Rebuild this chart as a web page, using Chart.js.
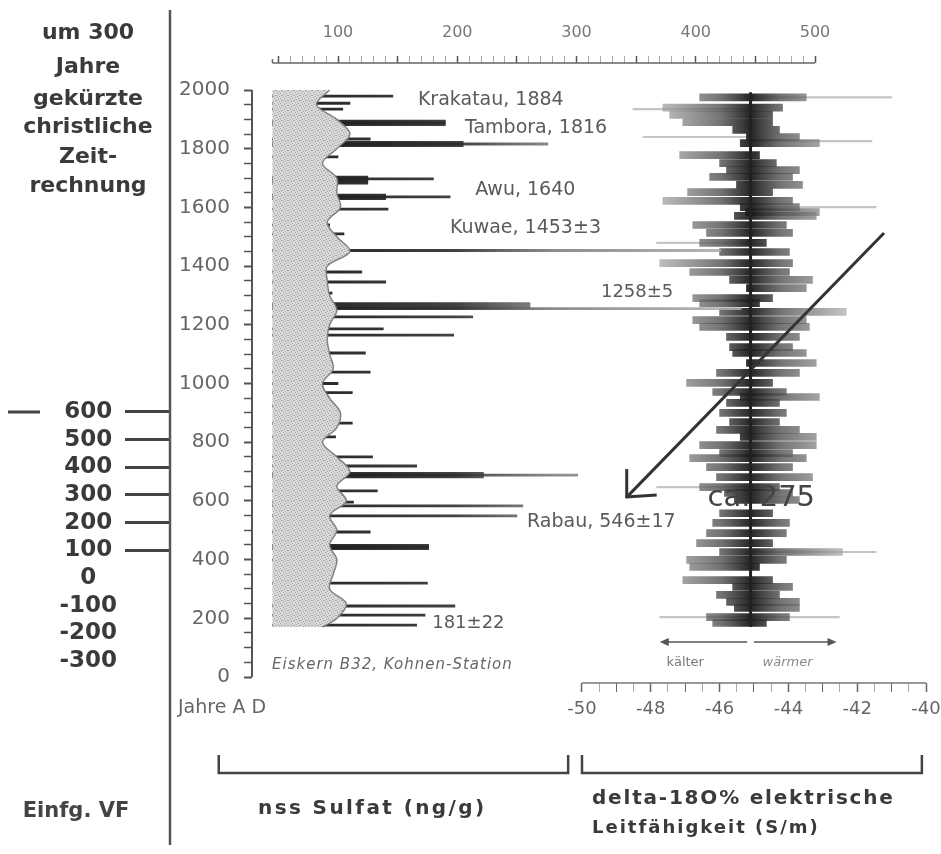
<!DOCTYPE html>
<html>
<head>
<meta charset="utf-8">
<title>Eiskern B32, Kohnen-Station</title>
<script src="https://cdn.jsdelivr.net/npm/chart.js"></script>
<style>
  html, body { margin: 0; padding: 0; background: #fff; }
  canvas { display: block; }
</style>
</head>
<body>
<canvas id="chart" width="941" height="854"></canvas>
<script>
// tick labels
const yearLabels = [0, 200, 400, 600, 800, 1000, 1200, 1400, 1600, 1800, 2000];
const chronoLabels = [600, 500, 400, 300, 200, 100, 0, -100, -200, -300];
const sulfLabels = [100, 200, 300, 400, 500];
const deltaLabels = [-50, -48, -46, -44, -42, -40];

// nss sulfate (ng/g): thin spikes and the thick dark cores of the big events
const spikeBase = 45;
const spikeYears = [1979, 1955, 1935, 1888, 1833, 1816, 1772, 1697, 1683, 1636, 1594, 1540, 1510, 1453, 1380, 1346, 1308, 1255, 1227, 1186, 1165, 1104, 1039, 1000, 969, 923, 865, 818, 750, 719, 688, 634, 596, 583, 549, 494, 443, 399, 320, 242, 211, 177];
const spikeVals = [146, 110, 104, 190, 127, 276, 100, 180, 125, 194, 142, 93, 105, 421, 120, 140, 95, 438, 213, 138, 197, 123, 127, 100, 112, 92, 112, 98, 129, 166, 301, 133, 113, 255, 250, 127, 176, 96, 175, 198, 173, 166];
const majorYears = [1888, 1816, 1697, 1636, 1266, 688, 443];
const majorVals = [190, 205, 125, 140, 261, 222, 176];

// grey background band of the sulfate record (right edge)
const bandStart = 45;
const bandYears = [2000, 1950, 1900, 1850, 1800, 1750, 1700, 1650, 1600, 1550, 1500, 1450, 1400, 1350, 1300, 1250, 1200, 1150, 1100, 1050, 1000, 950, 900, 850, 800, 750, 700, 650, 600, 550, 500, 450, 400, 350, 300, 250, 200, 170];
const bandEdge = [93, 82, 99, 110, 99, 87, 99, 99, 102, 91, 99, 110, 91, 91, 93, 99, 93, 91, 93, 96, 87, 93, 102, 99, 87, 99, 110, 99, 107, 93, 99, 93, 99, 96, 93, 107, 99, 87];

// delta-18O record: dark range per layer, plus faint outer spikes
const deltaYears = [1975, 1940, 1915, 1890, 1864, 1840, 1819, 1778, 1751, 1727, 1704, 1677, 1652, 1622, 1601, 1584, 1571, 1540, 1513, 1479, 1448, 1410, 1380, 1353, 1325, 1291, 1274, 1244, 1216, 1193, 1159, 1124, 1104, 1070, 1036, 1002, 971, 954, 934, 900, 869, 842, 818, 790, 763, 746, 715, 681, 647, 627, 603, 558, 525, 490, 456, 426, 399, 375, 330, 307, 280, 256, 235, 204, 184];
const deltaLo = [-46.58, -47.65, -47.45, -47.07, -45.62, -45.22, -45.40, -47.16, -46.00, -45.80, -46.29, -45.51, -46.93, -47.65, -45.40, -45.25, -45.57, -46.78, -46.38, -46.58, -46.00, -47.74, -46.87, -45.71, -45.22, -46.78, -46.58, -46.00, -46.78, -46.58, -45.80, -45.71, -45.62, -45.22, -46.09, -46.96, -46.20, -45.40, -45.80, -46.00, -45.71, -46.09, -45.40, -46.58, -46.00, -46.87, -46.38, -46.09, -46.58, -45.86, -45.57, -46.00, -46.20, -46.38, -46.67, -46.00, -46.96, -46.87, -47.07, -45.62, -46.09, -45.80, -45.57, -46.38, -46.20];
const deltaHi = [-43.48, -44.17, -44.46, -44.46, -44.26, -43.68, -43.10, -44.84, -44.35, -43.68, -43.88, -43.59, -44.46, -43.88, -43.68, -43.10, -43.19, -44.06, -43.88, -44.64, -43.97, -43.88, -43.97, -43.30, -43.48, -44.46, -44.84, -42.32, -43.48, -43.39, -43.68, -43.88, -43.48, -43.19, -43.68, -44.46, -44.06, -43.10, -44.26, -44.06, -44.26, -43.68, -43.19, -43.19, -43.88, -43.48, -43.88, -43.30, -44.26, -43.88, -43.68, -44.46, -43.97, -44.06, -44.46, -42.43, -44.06, -44.84, -44.46, -43.88, -44.26, -43.68, -43.68, -43.97, -44.64];
const farYears = [1975, 1935, 1840, 1826, 1601, 1479, 647, 426, 204];
const farLo = [-45.1, -48.52, -48.23, -45.1, -45.1, -47.83, -47.83, -45.1, -47.74];
const farHi = [-41.0, -45.1, -45.1, -41.57, -41.45, -45.1, -45.1, -41.45, -42.52];
const deltaMean = -45.1;
const meanYears = [1992, 170];

// the drawn trend arrow (delta value, year)
const trendDelta = [-41.22, -48.7];
const trendYears = [1513, 613];

Chart.defaults.font.family = '"DejaVu Sans"';

// speckled grey, like the scanned background band
function bandPattern() {
  const c = document.createElement('canvas');
  c.width = 6; c.height = 5;
  const g = c.getContext('2d');
  g.fillStyle = '#d8d8d8';
  g.fillRect(0, 0, 6, 5);
  g.fillStyle = '#a6a6a6';
  [[0, 0], [3, 1], [1, 2], [4, 3], [2, 4], [5, 0]].forEach(([x, y]) => g.fillRect(x, y, 1, 1));
  return g.createPattern(c, 'repeat');
}

function spikeFill(c) {
  const ch = c.chart;
  if (!ch.chartArea) return '#333';
  const s = ch.scales.x;
  const g = ch.ctx.createLinearGradient(s.getPixelForValue(85), 0, s.getPixelForValue(440), 0);
  g.addColorStop(0, 'rgba(30,30,30,0.95)');
  g.addColorStop(0.32, 'rgba(45,45,45,0.9)');
  g.addColorStop(0.55, 'rgba(120,120,120,0.85)');
  g.addColorStop(1, 'rgba(175,175,175,0.85)');
  return g;
}

function deltaFill(c) {
  const ch = c.chart;
  if (!ch.chartArea) return '#444';
  const s = ch.scales.x2;
  const g = ch.ctx.createLinearGradient(s.getPixelForValue(-48), 0, s.getPixelForValue(-42.2), 0);
  g.addColorStop(0, 'rgba(175,175,175,0.7)');
  g.addColorStop(0.35, 'rgba(80,80,80,0.8)');
  g.addColorStop(0.5, 'rgba(25,25,25,0.95)');
  g.addColorStop(0.65, 'rgba(80,80,80,0.8)');
  g.addColorStop(1, 'rgba(175,175,175,0.7)');
  return g;
}

const noPad = s => { s.paddingLeft = 0; s.paddingRight = 0; s.paddingTop = 0; s.paddingBottom = 0; };

function line(ctx, x1, y1, x2, y2, color, w) {
  ctx.beginPath();
  ctx.moveTo(x1, y1);
  ctx.lineTo(x2, y2);
  ctx.strokeStyle = color;
  ctx.lineWidth = w;
  ctx.stroke();
}

function text(ctx, s, x, y, font, color, align, spacing) {
  ctx.font = font;
  ctx.fillStyle = color;
  ctx.textAlign = align || 'left';
  ctx.textBaseline = 'middle';
  if ('letterSpacing' in ctx) ctx.letterSpacing = spacing || '0px';
  ctx.fillText(s, x, y);
  if ('letterSpacing' in ctx) ctx.letterSpacing = '0px';
}

function arrowHead(ctx, x, y, dir, color) {
  ctx.beginPath();
  ctx.moveTo(x, y);
  ctx.lineTo(x - dir * 9, y - 4);
  ctx.lineTo(x - dir * 9, y + 4);
  ctx.closePath();
  ctx.fillStyle = color;
  ctx.fill();
}

const decor = {
  id: 'decor',
  afterDraw(chart) {
    const ctx = chart.ctx;
    const xs = chart.scales.x, x2s = chart.scales.x2, ys = chart.scales.y, y2s = chart.scales.y2;
    ctx.save();

    // axis lines
    line(ctx, ys.right, ys.getPixelForValue(2000), ys.right, ys.getPixelForValue(0), '#555', 2);
    line(ctx, y2s.right, 10, y2s.right, 845, '#555', 2.5);
    line(ctx, 8, y2s.getPixelForValue(600), 40, y2s.getPixelForValue(600), '#444', 3);
    line(ctx, xs.getPixelForValue(45), xs.bottom, xs.getPixelForValue(500), xs.bottom, '#666', 1.5);
    line(ctx, xs.getPixelForValue(45), xs.bottom, xs.getPixelForValue(45), xs.bottom - 4, '#666', 1.5);
    line(ctx, x2s.getPixelForValue(-50), x2s.top, x2s.getPixelForValue(-40), x2s.top, '#777', 1.5);

    // arrowhead of the trend line
    const tx = x2s.getPixelForValue(trendDelta[1]), ty = ys.getPixelForValue(trendYears[1]);
    line(ctx, tx, ty - 28, tx, ty + 1, '#333', 3);
    line(ctx, tx - 1, ty, tx + 30, ty - 2, '#333', 3);

    // colder / warmer arrows
    const ay = ys.getPixelForValue(119);
    const aL = x2s.getPixelForValue(-47.74), aC1 = x2s.getPixelForValue(-45.2), aC2 = x2s.getPixelForValue(-45.0), aR = x2s.getPixelForValue(-42.6);
    line(ctx, aC1, ay, aL + 6, ay, '#555', 1.5);
    line(ctx, aC2, ay, aR - 6, ay, '#555', 1.5);
    arrowHead(ctx, aL, ay, -1, '#555');
    arrowHead(ctx, aR, ay, 1, '#555');
    const ly = ys.getPixelForValue(48);
    text(ctx, 'kälter', x2s.getPixelForValue(-47.54), ly, '13px "DejaVu Sans"', '#777');
    text(ctx, 'wärmer', x2s.getPixelForValue(-44.75), ly, 'italic 13px "DejaVu Sans"', '#888');

    // event labels
    const ann = '19px "DejaVu Sans"';
    const P = (v, yr) => [xs.getPixelForValue(v), ys.getPixelForValue(yr)];
    const labels = [
      ['Krakatau, 1884', 167, 1966],
      ['Tambora, 1816', 206.5, 1870],
      ['Awu, 1640', 215, 1659],
      ['Kuwae, 1453±3', 194, 1530],
      ['1258±5', 320.5, 1312],
      ['Rabau, 546±17', 258.5, 528],
      ['181±22', 179, 184]
    ];
    labels.forEach(([s, v, yr]) => {
      const [px, py] = P(v, yr);
      text(ctx, s, px, py, s === '181±22' || s === '1258±5' ? '18px "DejaVu Sans"' : ann, '#5a5a5a');
    });
    text(ctx, 'ca. 275', x2s.getPixelForValue(-46.35), ys.getPixelForValue(610), '29px "DejaVu Sans"', '#444');
    const [ex, ey] = P(44.7, 41);
    text(ctx, 'Eiskern B32, Kohnen-Station', ex, ey, 'italic 15px "DejaVu Sans"', '#666', 'left', '1px');
    text(ctx, 'Jahre A D', y2s.right + 8, ys.getPixelForValue(-105), '19px "DejaVu Sans"', '#666');

    // left column
    const lf = 'bold 22px "DejaVu Sans"';
    [['um 300', 33], ['Jahre', 67], ['gekürzte', 99], ['christliche', 127], ['Zeit-', 157], ['rechnung', 186]]
      .forEach(([s, y]) => text(ctx, s, 88, y, lf, '#3a3a3a', 'center'));
    text(ctx, 'Einfg. VF', 76, 812, 'bold 21px "DejaVu Sans"', '#444', 'center');

    // brackets under the two x axes
    const bracket = (a, b) => {
      ctx.beginPath();
      ctx.moveTo(a, 755); ctx.lineTo(a, 773); ctx.lineTo(b, 773); ctx.lineTo(b, 755);
      ctx.strokeStyle = '#444'; ctx.lineWidth = 2.5; ctx.stroke();
    };
    bracket(xs.getPixelForValue(0), xs.getPixelForValue(293));
    bracket(x2s.getPixelForValue(-50), x2s.getPixelForValue(-40.12));
    text(ctx, 'nss Sulfat (ng/g)', 258, 809, 'bold 20px "DejaVu Sans"', '#3a3a3a', 'left', '2.4px');
    text(ctx, 'delta-18O% elektrische', 592, 799, 'bold 20px "DejaVu Sans"', '#3a3a3a', 'left', '1.8px');
    text(ctx, 'Leitfähigkeit (S/m)', 592, 828, 'bold 18px "DejaVu Sans"', '#3a3a3a', 'left', '2px');

    ctx.restore();
  }
};

new Chart(document.getElementById('chart'), {
  type: 'bar',
  data: {
    datasets: [
      {
        // drawn over the spike roots so that they come out of the band edge
        type: 'line', indexAxis: 'y', xAxisID: 'x', yAxisID: 'y', order: 0.5,
        data: bandYears.map((yr, i) => ({x: bandEdge[i], y: yr})),
        fill: {value: bandStart},
        backgroundColor: bandPattern(),
        borderColor: 'rgba(120,120,120,0.9)', borderWidth: 1.5,
        pointRadius: 0, tension: 0.35
      },
      {
        indexAxis: 'y', xAxisID: 'x', yAxisID: 'y', stack: 's', order: 2,
        data: spikeYears.map((yr, i) => ({y: yr, x: [spikeBase, spikeVals[i]]})),
        backgroundColor: spikeFill, barThickness: 2.2, borderWidth: 0
      },
      {
        indexAxis: 'y', xAxisID: 'x', yAxisID: 'y', stack: 's', order: 1,
        data: majorYears.map((yr, i) => ({y: yr, x: [spikeBase, majorVals[i]]})),
        backgroundColor: spikeFill, barThickness: 5.5, borderWidth: 0
      },
      {
        indexAxis: 'y', xAxisID: 'x2', yAxisID: 'y', stack: 's', order: 4,
        data: farYears.map((yr, i) => ({y: yr, x: [farLo[i], farHi[i]]})),
        backgroundColor: 'rgba(150,150,150,0.55)', barThickness: 1.5, borderWidth: 0
      },
      {
        indexAxis: 'y', xAxisID: 'x2', yAxisID: 'y', stack: 's', order: 3,
        data: deltaYears.map((yr, i) => ({y: yr, x: [deltaLo[i], deltaHi[i]]})),
        backgroundColor: deltaFill, barThickness: 7, borderWidth: 0
      },
      {
        type: 'line', indexAxis: 'y', xAxisID: 'x2', yAxisID: 'y', order: 0,
        data: meanYears.map(yr => ({x: deltaMean, y: yr})),
        borderColor: '#222', borderWidth: 3, pointRadius: 0, fill: false
      },
      {
        type: 'line', indexAxis: 'y', xAxisID: 'x2', yAxisID: 'y', order: 0,
        data: trendYears.map((yr, i) => ({x: trendDelta[i], y: yr})),
        borderColor: '#333', borderWidth: 3, pointRadius: 0, fill: false
      }
    ]
  },
  options: {
    indexAxis: 'y',
    responsive: false,
    animation: false,
    layout: { padding: {left: 0, top: 0, right: 15, bottom: 126} },
    plugins: { legend: {display: false}, tooltip: {enabled: false} },
    scales: {
      y: {
        type: 'linear', position: 'left', weight: 0, min: -20.4, max: 2092,
        offset: false, stacked: true,
        afterBuildTicks: s => {
          const t = [];
          for (let v = 0; v <= 2000; v += 50) t.push({value: v});
          s.ticks = t;
        },
        afterFit: s => { s.width = 82; noPad(s); },
        ticks: {
          autoSkip: false, padding: 14, color: '#666', font: {size: 20},
          callback: v => yearLabels.includes(v) ? String(v) : ''
        },
        grid: {
          offset: false, drawOnChartArea: false, tickLength: 8, tickColor: '#555',
          tickWidth: c => yearLabels.includes(c.tick.value) ? 2 : 1.5
        },
        border: {display: false}
      },
      y2: {
        type: 'linear', position: 'left', weight: 1, min: -379.5, max: 1861.4,
        offset: false,
        afterBuildTicks: s => { s.ticks = chronoLabels.map(v => ({value: v})); },
        afterFit: s => { s.width = 170; noPad(s); },
        ticks: {
          autoSkip: false, padding: 8, crossAlign: 'center', color: '#3a3a3a',
          font: {size: 23, weight: 'bold'}, callback: v => String(v)
        },
        grid: {
          offset: false, drawOnChartArea: false, tickLength: 45, tickWidth: 3,
          tickColor: c => c.tick.value > 0 ? '#444' : 'rgba(0,0,0,0)'
        },
        border: {display: false}
      },
      x: {
        type: 'linear', position: 'top', min: 27.88, max: 593.08, stacked: false,
        afterBuildTicks: s => {
          const t = [];
          for (let v = 50; v <= 500; v += 10) t.push({value: v});
          s.ticks = t;
        },
        afterFit: s => { s.height = 63; noPad(s); },
        ticks: {
          autoSkip: false, maxRotation: 0, padding: 14, color: '#777', font: {size: 16},
          callback: v => sulfLabels.includes(v) ? String(v) : ''
        },
        grid: {
          drawOnChartArea: false, tickLength: 7,
          tickColor: c => c.tick.value % 50 === 0 ? '#555' : '#aaa',
          tickWidth: c => c.tick.value % 50 === 0 ? 1.5 : 1
        },
        border: {display: false}
      },
      x2: {
        type: 'linear', position: 'bottom', min: -59.593, max: -40, stacked: false,
        afterBuildTicks: s => {
          const t = [];
          for (let v = -50; v <= -40; v += 0.5) t.push({value: v});
          s.ticks = t;
        },
        afterFit: s => { s.height = 45; noPad(s); },
        ticks: {
          autoSkip: false, maxRotation: 0, padding: 7, color: '#666', font: {size: 18},
          callback: v => deltaLabels.includes(v) ? String(v) : ''
        },
        grid: {
          drawOnChartArea: false, tickLength: 9,
          tickColor: c => Number.isInteger(c.tick.value) ? '#666' : '#aaa',
          tickWidth: c => c.tick.value % 2 === 0 ? 1.5 : 1
        },
        border: {display: false}
      }
    }
  },
  plugins: [decor]
});
</script>
</body>
</html>
